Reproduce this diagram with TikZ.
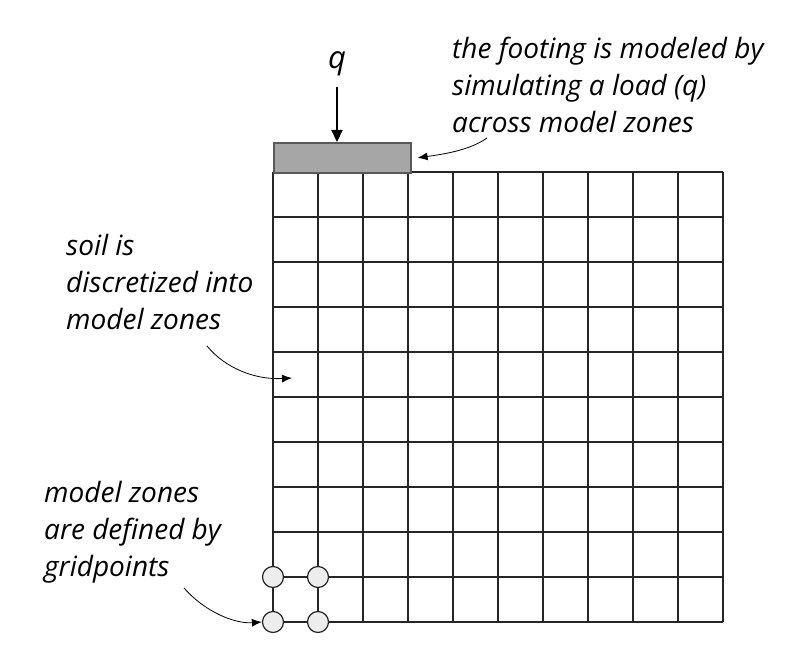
\documentclass[tikz,border=0pt]{standalone}
\usepackage{fontspec}
\setmainfont{Open Sans}
\usetikzlibrary{arrows.meta}
\begin{document}
\begin{tikzpicture}[x=1pt,y=-1pt,
  note/.style={font=\itshape\fontsize{28}{37}\selectfont, align=left, inner sep=0pt, anchor=north west},
  gridline/.style={draw=black!85, line width=1.4pt},
  gpoint/.style={circle, draw=black!85, fill=black!7, line width=1.2pt, minimum size=21pt, inner sep=0pt},
  thinarrow/.style={-{Latex[length=10pt,width=8pt]}, line width=0.8pt}
]
\useasboundingbox (0,0) rectangle (807,660);
% grid
\foreach \i in {0,...,10} {
  \draw[gridline] (273+45*\i,172) -- (273+45*\i,622);
  \draw[gridline] (273,172+45*\i) -- (723,172+45*\i);
}
% footing
\node[draw=black!65, fill=black!35, line width=1.6pt, minimum width=137pt, minimum height=30pt, inner sep=0pt, anchor=north west] (footing) at (273,142) {};
% load
\node[font=\itshape\fontsize{31}{31}\selectfont, inner sep=0pt] (q) at (337,64) {q};
\coordinate (qs) at (337,87);
\draw[-{Triangle[length=12pt,width=11pt]}, line width=2.2pt] (qs) -- (footing.north -| qs);
% grid points
\node[gpoint] (g1) at (273,577) {};
\node[gpoint] (g2) at (318,577) {};
\node[gpoint] (g3) at (273,622) {};
\node[gpoint] (g4) at (318,622) {};
% notes
\node[note] (n1) at (452,37) {the footing is modeled by\\simulating a load (q)\\across model zones};
\node[note] (n2) at (66,234) {soil is\\discretized into\\model zones};
\node[note] (n3) at (44,481) {model zones\\are defined by\\gridpoints};
% arrows
\coordinate (a1) at (487,138);
\coordinate (a2) at (207,346);
\coordinate (a3) at (184,588);
\coordinate (t2) at (292,378);
\draw[thinarrow] (a1) .. controls (470,150) and (445,154) .. ([xshift=6pt]footing.east);
\draw[thinarrow] (a2) .. controls (225,368) and (255,380) .. (t2);
\draw[thinarrow] (a3) .. controls (205,612) and (235,624) .. (g3.west);
\end{tikzpicture}
\end{document}
